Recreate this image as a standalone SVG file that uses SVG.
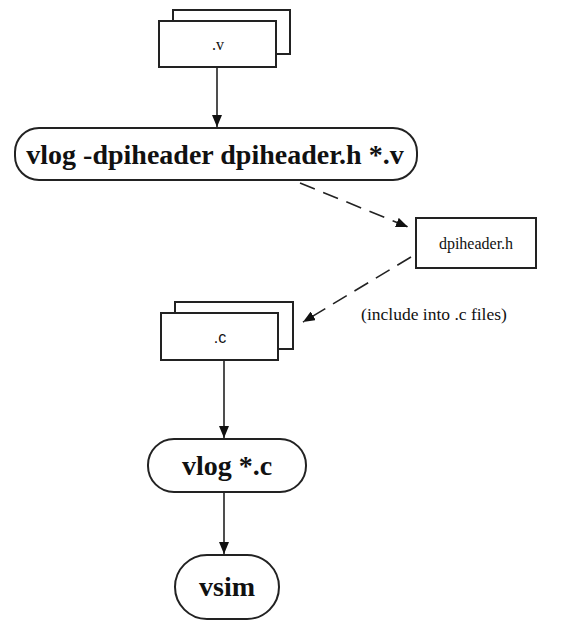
<svg xmlns="http://www.w3.org/2000/svg" width="583" height="621" viewBox="0 0 583 621">
  <style>
    .box { fill: #fff; stroke: #222; stroke-width: 2; }
    .term { fill: #fff; stroke: #222; stroke-width: 2; }
    .edge { fill: none; stroke: #222; stroke-width: 1.6; }
    .dash { stroke-dasharray: 16 9; }
    .lbl { font-family: "Liberation Serif", serif; fill: #111; text-anchor: middle; }
    .bold { font-weight: bold; font-size: 28px; }
    .reg { font-size: 16px; }
    .note { font-size: 17.5px; }
  </style>
  <defs>
    <marker id="arrow" viewBox="0 0 12 10" refX="12" refY="5" markerWidth="12" markerHeight="10" markerUnits="userSpaceOnUse" orient="auto">
      <path d="M0,0 L12,5 L0,10 Z" fill="#111"/>
    </marker>
  </defs>

  <g id="connectors">
    <line class="edge" x1="217" y1="67" x2="217" y2="127" marker-end="url(#arrow)"/>
    <line class="edge dash" x1="300" y1="183" x2="408" y2="227" marker-end="url(#arrow)"/>
    <line class="edge dash" x1="411" y1="257" x2="303" y2="322" marker-end="url(#arrow)"/>
    <line class="edge" x1="224" y1="360" x2="224" y2="438" marker-end="url(#arrow)"/>
    <line class="edge" x1="224" y1="492" x2="224" y2="554" marker-end="url(#arrow)"/>
  </g>

  <g id="node-v">
    <rect class="box" x="173" y="10" width="117" height="44"/>
    <rect class="box" x="159" y="21" width="117" height="46"/>
    <text class="lbl reg" x="218" y="50">.v</text>
  </g>

  <g id="node-vlog-dpiheader">
    <rect class="term" x="15" y="128" width="402" height="52" rx="24" ry="24"/>
    <text class="lbl bold" x="215" y="164">vlog -dpiheader dpiheader.h *.v</text>
  </g>

  <g id="node-dpiheader">
    <rect class="box" x="416" y="218" width="120" height="50"/>
    <text class="lbl reg" x="476" y="249">dpiheader.h</text>
  </g>

  <text class="lbl note" x="434" y="320">(include into .c files)</text>

  <g id="node-c">
    <rect class="box" x="175" y="302" width="118" height="47"/>
    <rect class="box" x="161" y="313" width="117" height="47"/>
    <text class="lbl reg" x="220" y="343" style="font-family:'Liberation Sans', sans-serif">.c</text>
  </g>

  <g id="node-vlog-c">
    <rect class="term" x="148" y="439" width="158" height="53" rx="26" ry="26"/>
    <text class="lbl bold" x="227" y="475">vlog *.c</text>
  </g>

  <g id="node-vsim">
    <rect class="term" x="175" y="555" width="104" height="64" rx="32" ry="32"/>
    <text class="lbl bold" x="227" y="596">vsim</text>
  </g>
</svg>
